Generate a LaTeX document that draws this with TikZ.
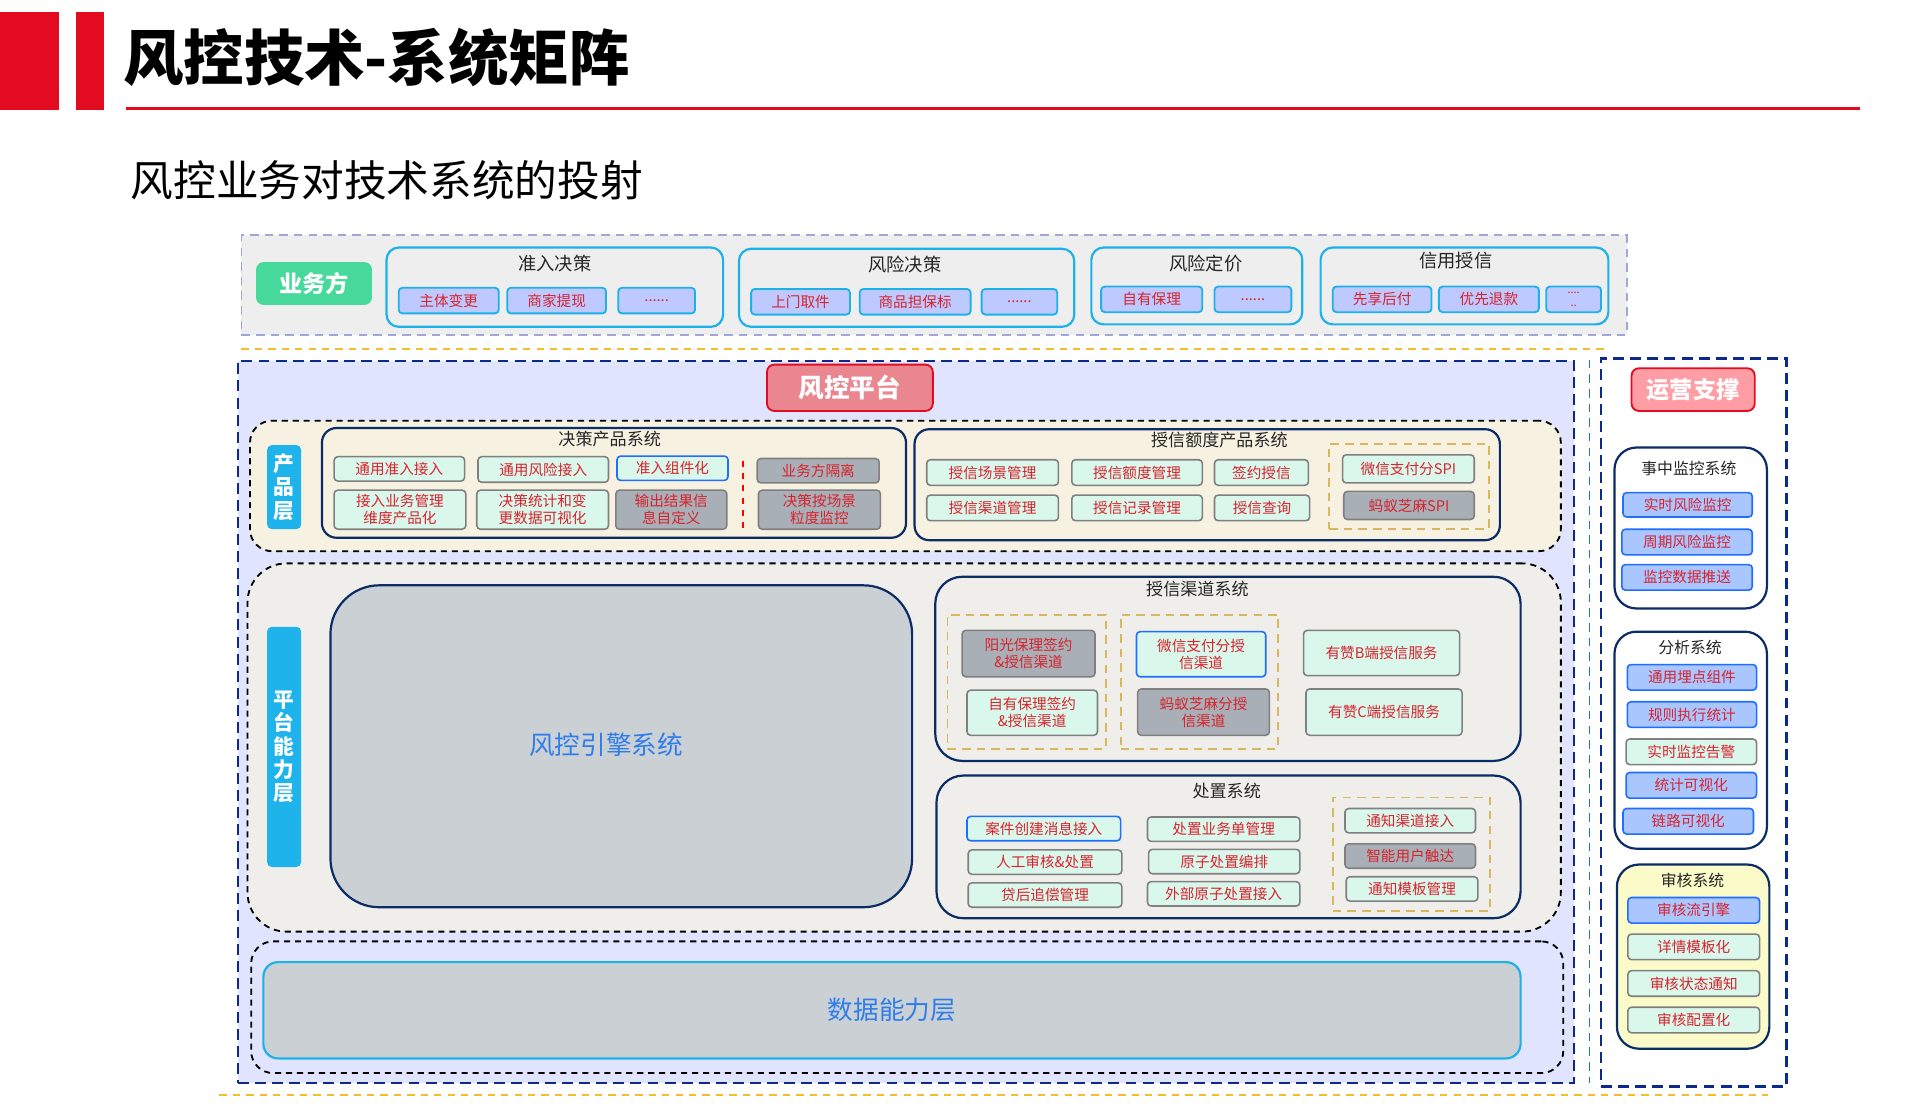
\documentclass[tikz,border=0pt]{standalone}
\usepackage{fontspec}
\setmainfont{Noto Sans CJK SC}
\usepackage{tikz}
\usetikzlibrary{shapes.geometric}

\definecolor{redbar}{HTML}{E30B20}
\definecolor{bandgray}{HTML}{EEEEEE}
\definecolor{bandline}{HTML}{A0A6D8}
\definecolor{bizgreen}{HTML}{46D99B}
\definecolor{cyanline}{HTML}{1DB1EA}
\definecolor{bizfill}{HTML}{BDC9FF}
\definecolor{itemred}{HTML}{D8232D}
\definecolor{orangeline}{HTML}{F6BD2B}
\definecolor{pflav}{HTML}{E0E4FE}
\definecolor{navy}{HTML}{0B2A8C}
\definecolor{sysnavy}{HTML}{0C2C66}
\definecolor{pfpink}{HTML}{E9868F}
\definecolor{beige}{HTML}{F7F1E2}
\definecolor{tagcyan}{HTML}{1FB3EB}
\definecolor{mint}{HTML}{DAF7EC}
\definecolor{itemgray}{HTML}{A9AFB7}
\definecolor{itemedge}{HTML}{808080}
\definecolor{bluedge}{HTML}{1E6EFF}
\definecolor{goldline}{HTML}{D9B760}
\definecolor{capgray}{HTML}{EFEEEA}
\definecolor{enginegray}{HTML}{CBD0D5}
\definecolor{engineblue}{HTML}{2F7DEA}
\definecolor{opspink}{HTML}{FF9DA5}
\definecolor{opsblue}{HTML}{A9C6FF}
\definecolor{audityellow}{HTML}{FAFBC8}

\tikzset{
  box/.style={rectangle, inner sep=0pt, align=center},
  bizitem/.style={box, rounded corners=3pt, draw=cyanline, fill=bizfill, line width=1.5pt, text=itemred, font=\fontsize{12}{14}\selectfont},
  bizgroup/.style={box, rounded corners=10pt, draw=cyanline, fill=bandgray, line width=1.8pt},
  grouptitle/.style={inner sep=0pt, text=black!85, font=\fontsize{15}{17}\selectfont},
  item/.style={box, rounded corners=3pt, draw=itemedge, fill=mint, line width=1.3pt, text=itemred, font=\fontsize{12}{14}\selectfont},
  grayitem/.style={item, fill=itemgray},
  blueitem/.style={item, draw=bluedge},
  opsitem/.style={item, draw=bluedge, fill=opsblue},
  sys/.style={box, rounded corners=12pt, draw=sysnavy, line width=1.8pt},
  systitle/.style={inner sep=0pt, text=black!85, font=\fontsize{14}{16}\selectfont},
  layer/.style={box, rounded corners=18pt, draw=black, line width=1.5pt, dash pattern=on 5pt off 4pt},
  golden/.style={box, draw=goldline, line width=1.5pt, dash pattern=on 7pt off 5pt},
  tag/.style={box, rounded corners=4pt, fill=tagcyan, text=white, font=\bfseries\fontsize{17}{19.5}\selectfont},
  banner/.style={box, rounded corners=6pt, line width=1.5pt, text=white, font=\bfseries\fontsize{20}{22}\selectfont},
}

\begin{document}
\begin{tikzpicture}[x=1pt,y=-1pt]
\useasboundingbox (0,0) rectangle (1568,914);

% header
\node[box, fill=redbar, minimum width=48pt, minimum height=80pt](redA) at (24,50) {};
\node[box, fill=redbar, minimum width=23pt, minimum height=80pt](redB) at (73.5,50) {};
\node[anchor=west, inner sep=0pt, font=\bfseries\fontsize{49.5}{51}\selectfont](title) at (101,47) {风控技术-系统矩阵};
\draw[redbar, line width=3pt] (103,89) -- (1525,89);
\node[anchor=west, inner sep=0pt, font=\fontsize{35}{37}\selectfont](subtitle) at (107,148) {风控业务对技术系统的投射};

% business side
\node[box, fill=bandgray, draw=bandline, line width=1.5pt, dash pattern=on 7pt off 5pt, minimum width=1136pt, minimum height=82pt](bizband) at (766,234) {};
\node[box, fill=bizgreen, rounded corners=6pt, text=white, font=\bfseries\fontsize{19}{21}\selectfont, minimum width=95pt, minimum height=35pt](biz) at (257.5,232.5) {业务方};

\node[bizgroup, minimum width=276pt, minimum height=65pt](zhunru) at (455,235.5) {};
\node[grouptitle](zhunrut) at (455,216) {准入决策};
\node[bizitem, minimum width=82pt, minimum height=21pt](zhuti) at (368,246.5) {主体变更};
\node[bizitem, minimum width=81pt, minimum height=21pt](tixian) at (456.5,246.5) {商家提现};
\node[bizitem, minimum width=63pt, minimum height=21pt](zhunrumore) at (538.5,246.5) {......};

\node[bizgroup, minimum width=275pt, minimum height=64pt](fengxian) at (743.5,236) {};
\node[grouptitle](fengxiant) at (742,217) {风险决策};
\node[bizitem, minimum width=81pt, minimum height=21pt](qujian) at (656.5,247.5) {上门取件};
\node[bizitem, minimum width=91pt, minimum height=21pt](danbao) at (750.5,247.5) {商品担保标};
\node[bizitem, minimum width=62pt, minimum height=21pt](fengxianmore) at (836,247.5) {......};

\node[bizgroup, minimum width=173pt, minimum height=63pt](dingjia) at (981.5,234.5) {};
\node[grouptitle](dingjiat) at (989,216) {风险定价};
\node[bizitem, minimum width=83pt, minimum height=21pt](baoli) at (944.5,245.5) {自有保理};
\node[bizitem, minimum width=63pt, minimum height=21pt](dingjiamore) at (1027.5,245.5) {......};

\node[bizgroup, minimum width=236pt, minimum height=63pt](shouxin) at (1201,234.5) {};
\node[grouptitle](shouxint) at (1194,214) {信用授信};
\node[bizitem, minimum width=81pt, minimum height=21pt](xianxiang) at (1133.5,245.5) {先享后付};
\node[bizitem, minimum width=82pt, minimum height=21pt](tuikuan) at (1221,245.5) {优先退款};
\node[bizitem, minimum width=45pt, minimum height=21pt, font=\fontsize{9}{10}\selectfont](shouxinmore) at (1290.5,245.5) {....\\..};

\draw[orangeline, line width=1.5pt, dash pattern=on 6pt off 5pt] (198,286) -- (1317,286);

% risk platform
\node[box, fill=pflav, draw=navy, line width=2pt, dash pattern=on 9pt off 5pt, minimum width=1096pt, minimum height=592pt](platform) at (743,592) {};
\node[banner, fill=pfpink, draw=redbar, minimum width=136pt, minimum height=38pt, font=\bfseries\fontsize{21}{23}\selectfont](pflabel) at (697,318) {风控平台};

% product layer
\node[layer, fill=beige, minimum width=1075pt, minimum height=107pt](product) at (742.5,398.5) {};
\node[tag, minimum width=28pt, minimum height=69pt](producttag) at (233,399.5) {产\\品\\层};

\node[sys, fill=beige, minimum width=479pt, minimum height=90pt](decision) at (503.5,396) {};
\node[systitle](decisiont) at (500,360) {决策产品系统};
\node[item, minimum width=107pt, minimum height=20pt](tongyong) at (327.5,384.5) {通用准入接入};
\node[item, minimum width=107pt, minimum height=21pt](fengxianjie) at (445.5,385) {通用风险接入};
\node[blueitem, minimum width=91pt, minimum height=20pt](zujian) at (551.5,384) {准入组件化};
\node[grayitem, minimum width=100pt, minimum height=20pt](geli) at (671,386) {业务方隔离};
\node[item, minimum width=108pt, minimum height=32pt](weidu) at (328,418) {接入业务管理\\维度产品化};
\node[item, minimum width=108pt, minimum height=32pt](tongji) at (445,418) {决策统计和变\\更数据可视化};
\node[grayitem, minimum width=91pt, minimum height=32pt](shuchu) at (550.5,418) {输出结果信\\息自定义};
\node[grayitem, minimum width=100pt, minimum height=32pt](jiankong) at (672,418) {决策按场景\\粒度监控};
\draw[red, line width=1.5pt, dash pattern=on 5pt off 5pt] (609,378) -- (609,434);

\node[sys, fill=beige, minimum width=480pt, minimum height=91pt](edu) at (990,397.5) {};
\node[systitle](edut) at (1000,361) {授信额度产品系统};
\node[item, minimum width=108pt, minimum height=21pt](changjing) at (814,387.5) {授信场景管理};
\node[item, minimum width=107pt, minimum height=21pt](eduguanli) at (932.5,387.5) {授信额度管理};
\node[item, minimum width=77pt, minimum height=21pt](qianyue) at (1034.5,387.5) {签约授信};
\node[item, minimum width=108pt, minimum height=21pt](qudao) at (814,416.5) {授信渠道管理};
\node[item, minimum width=107pt, minimum height=21pt](jilu) at (932.5,416.5) {授信记录管理};
\node[item, minimum width=78pt, minimum height=21pt](chaxun) at (1035,416.5) {授信查询};
\node[golden, minimum width=131pt, minimum height=70pt](spi) at (1155.5,399) {};
\node[item, minimum width=108pt, minimum height=23pt](weixinspi) at (1155,384.5) {微信支付分SPI};
\node[grayitem, minimum width=107pt, minimum height=23pt](mayispi) at (1155.5,414.5) {蚂蚁芝麻SPI};

% platform capability layer
\node[layer, rounded corners=32pt, fill=capgray, minimum width=1077pt, minimum height=302pt](capability) at (741.5,613) {};
\node[tag, minimum width=28pt, minimum height=197pt, font=\bfseries\fontsize{17}{19}\selectfont](captag) at (233,612.5) {平\\台\\能\\力\\层};
\node[sys, rounded corners=40pt, fill=enginegray, minimum width=477pt, minimum height=264pt](engine) at (509.5,612) {};
\node[text=engineblue, inner sep=0pt, font=\fontsize{21}{23}\selectfont](enginet) at (497,611) {风控引擎系统};

\node[sys, rounded corners=22pt, fill=capgray, minimum width=480pt, minimum height=151pt](channel) at (1007,548.5) {};
\node[systitle](channelt) at (982,483) {授信渠道系统};
\node[golden, minimum width=130pt, minimum height=110pt](chA) at (842,559) {};
\node[golden, minimum width=129pt, minimum height=110pt](chB) at (983.5,559) {};
\node[grayitem, minimum width=109pt, minimum height=38pt](yangguang) at (843.5,536) {阳光保理签约\\\&授信渠道};
\node[item, minimum width=107pt, minimum height=37pt](ziyou) at (846.5,584.5) {自有保理签约\\\&授信渠道};
\node[blueitem, minimum width=106pt, minimum height=37pt](weixin) at (985,536.5) {微信支付分授\\信渠道};
\node[grayitem, minimum width=108pt, minimum height=38pt](mayi) at (987,584) {蚂蚁芝麻分授\\信渠道};
\node[item, minimum width=128pt, minimum height=37pt](youzanb) at (1133,535.5) {有赞B端授信服务};
\node[item, minimum width=128pt, minimum height=38pt](youzanc) at (1135,584) {有赞C端授信服务};

\node[sys, rounded corners=22pt, fill=capgray, minimum width=479pt, minimum height=117pt](disposal) at (1007.5,694.5) {};
\node[systitle](disposalt) at (1006,649) {处置系统};
\node[blueitem, minimum width=126pt, minimum height=20pt](anjian) at (856,679.5) {案件创建消息接入};
\node[item, minimum width=126pt, minimum height=20pt](rengong) at (857,707) {人工审核\&处置};
\node[item, minimum width=126pt, minimum height=20pt](zhuichang) at (857,734) {贷后追偿管理};
\node[item, minimum width=125pt, minimum height=20pt](yewudan) at (1003.5,680) {处置业务单管理};
\node[item, minimum width=124pt, minimum height=20pt](bianpai) at (1004,706.5) {原子处置编排};
\node[item, minimum width=125pt, minimum height=20pt](waibu) at (1003.5,733) {外部原子处置接入};
\node[golden, minimum width=129pt, minimum height=93pt](notify) at (1157.5,700.5) {};
\node[item, minimum width=107pt, minimum height=20pt](tongzhi) at (1156.5,673) {通知渠道接入};
\node[grayitem, minimum width=107pt, minimum height=20pt](chuda) at (1156.5,702) {智能用户触达};
\node[item, minimum width=108pt, minimum height=20pt](muban) at (1158,729) {通知模板管理};

% data layer
\node[layer, minimum width=1076pt, minimum height=108pt](datalayer) at (744,826) {};
\node[box, rounded corners=12pt, fill=enginegray, draw=cyanline, line width=1.8pt, minimum width=1031pt, minimum height=79pt, text=engineblue, font=\fontsize{21}{23}\selectfont](data) at (731.5,828.5) {数据能力层};

\draw[orangeline, line width=1.5pt, dash pattern=on 6pt off 5pt] (180,898) -- (1450,898);
\draw[bluedge, line width=1.5pt, dash pattern=on 7pt off 5pt] (1303.5,295) -- (1303.5,888);

% operation support
\node[box, draw=navy, line width=2pt, dash pattern=on 9pt off 5pt, minimum width=152pt, minimum height=597pt](ops) at (1389,592.5) {};
\node[banner, fill=opspink, draw=redbar, minimum width=101pt, minimum height=35pt, font=\bfseries\fontsize{19}{21}\selectfont](opslabel) at (1388.5,319.5) {运营支撑};

\node[sys, rounded corners=18pt, fill=white, minimum width=125pt, minimum height=132pt](monitor) at (1386.5,433) {};
\node[systitle, font=\fontsize{13}{15}\selectfont](monitort) at (1385,384) {事中监控系统};
\node[opsitem, minimum width=106pt, minimum height=20pt](shishi) at (1384,414) {实时风险监控};
\node[opsitem, minimum width=107pt, minimum height=21pt](zhouqi) at (1383.5,444.5) {周期风险监控};
\node[opsitem, minimum width=107pt, minimum height=21pt](tuisong) at (1383.5,473.5) {监控数据推送};

\node[sys, rounded corners=18pt, fill=white, minimum width=125pt, minimum height=178pt](analysis) at (1386.5,607) {};
\node[systitle, font=\fontsize{13}{15}\selectfont](analysist) at (1386,531) {分析系统};
\node[opsitem, minimum width=106pt, minimum height=21pt](maidian) at (1387.5,555.5) {通用埋点组件};
\node[opsitem, minimum width=106pt, minimum height=21pt](guize) at (1387.5,586) {规则执行统计};
\node[item, minimum width=107pt, minimum height=21pt](gaojing) at (1387,616.5) {实时监控告警};
\node[opsitem, minimum width=107pt, minimum height=21pt](keshihua) at (1387,644) {统计可视化};
\node[opsitem, minimum width=107pt, minimum height=21pt](lianlu) at (1384.5,673.5) {链路可视化};

\node[sys, rounded corners=18pt, fill=audityellow, minimum width=125pt, minimum height=151pt](audit) at (1388.5,784.5) {};
\node[systitle, font=\fontsize{13}{15}\selectfont](auditt) at (1388,722) {审核系统};
\node[opsitem, minimum width=108pt, minimum height=21pt](liuyinqing) at (1389,746.5) {审核流引擎};
\node[item, minimum width=108pt, minimum height=21pt](xiangqing) at (1389,776.5) {详情模板化};
\node[item, minimum width=108pt, minimum height=21pt](zhuangtai) at (1389,806.5) {审核状态通知};
\node[item, minimum width=108pt, minimum height=21pt](peizhi) at (1389,836.5) {审核配置化};
\end{tikzpicture}
\end{document}
